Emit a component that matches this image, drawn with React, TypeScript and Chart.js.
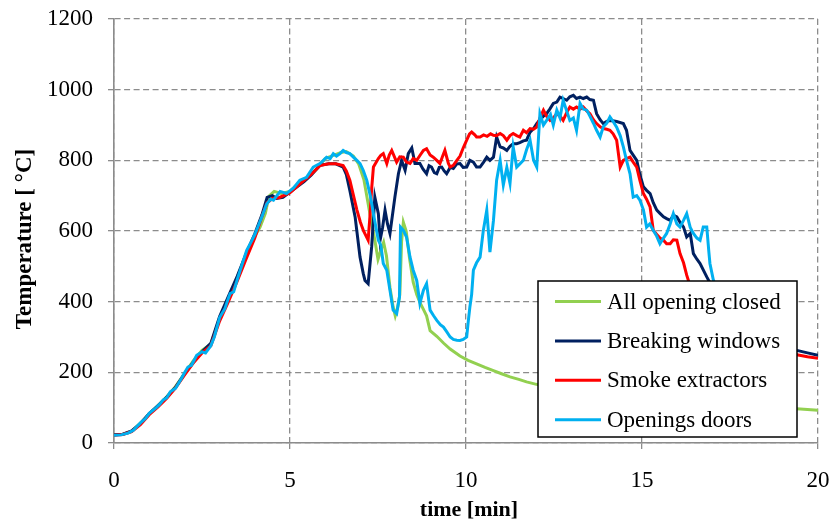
import { useEffect, useRef } from "react";
import { Chart, registerables } from "chart.js";

Chart.register(...registerables);

// Axis ticks
const timeTicks = [0, 5, 10, 15, 20];
const tempTicks = [0, 200, 400, 600, 800, 1000, 1200];

// Series labels and colours
const seriesNames = ["All opening closed", "Breaking windows", "Smoke extractors", "Openings doors"];
const seriesColors = ["#92D050", "#002060", "#FF0000", "#00B0F0"];

// Measurements: [time (min), temperature (°C)]
const allOpeningClosed: [number, number][] = [
  [0, 24], [0.25, 25], [0.5, 33], [0.75, 56], [1.0, 82], [1.25, 106], [1.5, 131], [1.75, 160],
  [2.0, 196], [2.25, 232], [2.5, 262], [2.75, 280], [3.0, 352], [3.25, 410], [3.5, 468], [3.75, 530],
  [4.0, 585], [4.15, 611], [4.3, 650], [4.4, 698], [4.55, 712], [4.75, 706], [5.0, 712], [5.25, 735],
  [5.5, 752], [5.75, 775], [6.0, 805], [6.25, 815], [6.45, 822], [6.6, 825], [6.8, 812], [6.95, 790],
  [7.1, 745], [7.25, 660], [7.4, 580], [7.5, 520], [7.58, 545], [7.66, 568], [7.74, 530], [7.84, 440],
  [7.93, 385], [7.99, 360], [8.06, 385], [8.12, 420], [8.17, 570], [8.22, 625], [8.3, 600], [8.4, 520],
  [8.5, 455], [8.6, 420], [8.69, 398], [8.79, 378], [8.88, 360], [8.98, 318], [9.17, 302], [9.36, 283],
  [9.55, 266], [9.83, 246], [10.06, 234], [10.3, 224], [10.54, 214], [10.78, 205], [11.01, 196],
  [11.25, 187], [11.5, 180], [11.72, 173], [12.0, 166], [12.5, 158], [13, 150], [14, 138], [15, 127],
  [16, 118], [17, 110], [18, 104], [19, 99], [19.5, 96], [20, 93],
];

const breakingWindows: [number, number][] = [
  [0, 23], [0.25, 25], [0.5, 34], [0.75, 55], [1.0, 83], [1.25, 106], [1.5, 130], [1.75, 158],
  [2.0, 195], [2.25, 228], [2.5, 258], [2.75, 282], [3.0, 358], [3.25, 415], [3.5, 472], [3.75, 535],
  [4.0, 592], [4.2, 645], [4.35, 695], [4.5, 700], [4.62, 692], [4.8, 695], [5.0, 710], [5.2, 725],
  [5.4, 740], [5.6, 758], [5.85, 786], [6.1, 790], [6.3, 790], [6.51, 781], [6.6, 760], [6.7, 715],
  [6.85, 640], [6.99, 526], [7.08, 480], [7.13, 460], [7.22, 451], [7.32, 555], [7.41, 696], [7.51, 649],
  [7.56, 574], [7.63, 610], [7.7, 659], [7.77, 620], [7.84, 593], [7.98, 696], [8.08, 762], [8.17, 800],
  [8.27, 772], [8.36, 819], [8.46, 835], [8.55, 791], [8.69, 791], [8.78, 775], [8.88, 762], [8.95, 785],
  [9.02, 781], [9.1, 765], [9.17, 762], [9.24, 780], [9.31, 781], [9.38, 770], [9.45, 762], [9.55, 780],
  [9.64, 777], [9.74, 790], [9.83, 791], [9.92, 780], [10.02, 781], [10.11, 800], [10.21, 795],
  [10.3, 781], [10.4, 781], [10.5, 795], [10.59, 809], [10.68, 800], [10.78, 809], [10.87, 866],
  [10.97, 838], [11.06, 835], [11.16, 828], [11.25, 840], [11.34, 847], [11.44, 847], [11.53, 850],
  [11.63, 855], [11.72, 857], [11.82, 880], [11.92, 890], [12.01, 904], [12.1, 915], [12.2, 925],
  [12.29, 932], [12.38, 945], [12.48, 961], [12.58, 965], [12.67, 979], [12.76, 975], [12.86, 970],
  [12.95, 980], [13.05, 984], [13.14, 975], [13.24, 979], [13.33, 975], [13.43, 979], [13.52, 972],
  [13.62, 970], [13.71, 932], [13.81, 915], [13.9, 904], [14.0, 910], [14.09, 913], [14.28, 910],
  [14.47, 904], [14.56, 885], [14.66, 828], [14.75, 815], [14.85, 800], [14.94, 760], [15.04, 725],
  [15.13, 715], [15.23, 706], [15.32, 680], [15.42, 659], [15.51, 650], [15.61, 640], [15.7, 635],
  [15.8, 630], [15.89, 645], [15.99, 640], [16.08, 625], [16.18, 611], [16.27, 583], [16.37, 593],
  [16.46, 536], [16.56, 520], [16.65, 508], [16.84, 470], [17.0, 440], [17.5, 350], [18.0, 310],
  [18.5, 290], [19.0, 275], [19.4, 262], [19.7, 255], [20.0, 248],
];

const smokeExtractors: [number, number][] = [
  [0, 22], [0.25, 24], [0.5, 32], [0.75, 52], [1.0, 80], [1.25, 102], [1.5, 127], [1.75, 156],
  [2.0, 192], [2.25, 226], [2.5, 255], [2.75, 275], [3.0, 345], [3.25, 400], [3.5, 458], [3.75, 520],
  [4.0, 580], [4.2, 640], [4.35, 680], [4.5, 692], [4.7, 695], [5.0, 708], [5.3, 735], [5.6, 760],
  [5.85, 785], [6.1, 790], [6.3, 790], [6.51, 785], [6.6, 770], [6.7, 744], [6.9, 660], [7.0, 625],
  [7.09, 600], [7.22, 574], [7.27, 640], [7.32, 720], [7.37, 781], [7.51, 805], [7.58, 814], [7.65, 819],
  [7.75, 791], [7.82, 815], [7.89, 828], [8.03, 795], [8.12, 810], [8.22, 809], [8.31, 795], [8.41, 791],
  [8.5, 805], [8.6, 800], [8.7, 815], [8.79, 828], [8.88, 833], [8.98, 815], [9.07, 809], [9.17, 800],
  [9.26, 791], [9.33, 810], [9.4, 828], [9.5, 791], [9.55, 781], [9.64, 786], [9.74, 800], [9.83, 812],
  [9.92, 835], [10.02, 857], [10.1, 875], [10.16, 880], [10.25, 872], [10.3, 866], [10.4, 866],
  [10.5, 872], [10.6, 868], [10.7, 875], [10.78, 871], [10.87, 870], [10.97, 876], [11.06, 870],
  [11.16, 857], [11.25, 870], [11.34, 876], [11.44, 870], [11.53, 866], [11.63, 885], [11.72, 878],
  [11.82, 890], [11.92, 888], [12.01, 894], [12.1, 920], [12.2, 942], [12.29, 925], [12.39, 913],
  [12.48, 920], [12.58, 932], [12.67, 925], [12.76, 913], [12.86, 935], [12.95, 951], [13.05, 945],
  [13.14, 951], [13.24, 945], [13.33, 951], [13.43, 940], [13.52, 932], [13.62, 915], [13.71, 904],
  [13.81, 895], [13.9, 890], [14.0, 888], [14.09, 885], [14.18, 875], [14.28, 857], [14.38, 781],
  [14.47, 800], [14.56, 805], [14.66, 809], [14.75, 795], [14.85, 781], [14.94, 743], [15.04, 706],
  [15.13, 690], [15.23, 668], [15.32, 602], [15.42, 590], [15.51, 580], [15.61, 574], [15.7, 564],
  [15.8, 564], [15.89, 575], [15.99, 574], [16.08, 536], [16.18, 510], [16.27, 475], [16.35, 450],
  [16.5, 420], [17.0, 360], [17.5, 320], [18.0, 295], [18.5, 275], [19.0, 258], [19.4, 250],
  [19.7, 244], [20.0, 240],
];

const openingsDoors: [number, number][] = [
  [0, 22], [0.2, 23], [0.4, 28], [0.55, 36], [0.75, 57], [0.9, 70], [1.0, 84], [1.2, 100], [1.3, 110],
  [1.4, 122], [1.5, 128], [1.6, 145], [1.75, 155], [1.9, 180], [2.0, 198], [2.1, 215], [2.2, 220],
  [2.35, 248], [2.5, 258], [2.6, 255], [2.75, 275], [2.85, 300], [3.0, 355], [3.15, 380], [3.25, 410],
  [3.3, 423], [3.4, 428], [3.5, 462], [3.67, 515], [3.77, 545], [3.9, 570], [4.0, 590], [4.1, 615],
  [4.2, 640], [4.34, 677], [4.45, 690], [4.53, 687], [4.72, 712], [4.9, 706], [5.1, 722], [5.28, 744],
  [5.47, 752], [5.66, 781], [5.85, 791], [5.95, 800], [6.04, 809], [6.14, 805], [6.23, 819], [6.32, 812],
  [6.42, 819], [6.51, 828], [6.6, 822], [6.7, 819], [6.8, 809], [6.9, 800], [6.99, 791], [7.08, 772],
  [7.18, 744], [7.28, 700], [7.37, 649], [7.51, 574], [7.58, 560], [7.65, 508], [7.75, 489], [7.84, 432],
  [7.93, 376], [8.03, 366], [8.11, 413], [8.14, 611], [8.22, 602], [8.31, 583], [8.41, 526], [8.5, 489],
  [8.6, 460], [8.69, 395], [8.79, 432], [8.88, 451], [8.98, 376], [9.08, 360], [9.17, 347], [9.27, 335],
  [9.36, 328], [9.45, 315], [9.55, 300], [9.64, 293], [9.74, 291], [9.83, 290], [9.92, 293], [10.02, 300],
  [10.06, 340], [10.11, 385], [10.16, 420], [10.21, 489], [10.3, 510], [10.4, 526], [10.49, 600],
  [10.59, 659], [10.68, 540], [10.78, 630], [10.87, 744], [10.97, 800], [11.06, 730], [11.16, 780],
  [11.25, 735], [11.34, 838], [11.44, 781], [11.53, 790], [11.63, 800], [11.72, 830], [11.82, 857],
  [11.92, 800], [12.01, 781], [12.1, 932], [12.2, 900], [12.29, 913], [12.4, 930], [12.48, 900],
  [12.58, 942], [12.67, 920], [12.76, 970], [12.86, 940], [12.95, 913], [13.05, 920], [13.14, 885],
  [13.24, 961], [13.33, 945], [13.43, 942], [13.52, 925], [13.62, 905], [13.71, 885], [13.81, 866],
  [13.9, 895], [14.0, 905], [14.09, 923], [14.18, 910], [14.28, 894], [14.38, 870], [14.47, 838],
  [14.56, 800], [14.66, 762], [14.75, 696], [14.85, 700], [14.94, 687], [15.04, 660], [15.13, 611],
  [15.22, 620], [15.32, 602], [15.42, 585], [15.51, 564], [15.61, 580], [15.7, 593], [15.8, 620],
  [15.89, 649], [15.99, 620], [16.08, 611], [16.18, 630], [16.27, 649], [16.37, 610], [16.46, 593],
  [16.56, 580], [16.65, 574], [16.74, 611], [16.84, 611], [16.9, 540], [16.93, 508], [17.03, 460],
  [17.3, 400], [17.8, 340],
];

const seriesData = [allOpeningClosed, breakingWindows, smokeExtractors, openingsDoors];

const FONT_FAMILY = '"Liberation Serif", "Times New Roman", serif';
const GRID_COLOR = "#8c8c8c";
const GRID_DASH = [6, 3.5];

// Boxed legend drawn inside the plot, over the lines, with an opaque background
const boxedLegend = {
  id: "boxedLegend",
  afterDatasetsDraw(chart: Chart) {
    const { ctx, chartArea } = chart;
    const w = 259;
    const h = 156;
    const left = chartArea.right - 21 - w;
    const top = chartArea.bottom - 6 - h;
    ctx.save();
    ctx.fillStyle = "#ffffff";
    ctx.fillRect(left, top, w, h);
    ctx.strokeStyle = "#000000";
    ctx.lineWidth = 1.5;
    ctx.strokeRect(left, top, w, h);
    ctx.font = `23px ${FONT_FAMILY}`;
    ctx.textBaseline = "middle";
    ctx.textAlign = "left";
    seriesNames.forEach((name, i) => {
      const y = top + 20.5 + i * 39.4;
      ctx.strokeStyle = seriesColors[i];
      ctx.lineWidth = 3;
      ctx.beginPath();
      ctx.moveTo(left + 17, y);
      ctx.lineTo(left + 63, y);
      ctx.stroke();
      ctx.fillStyle = "#000000";
      ctx.fillText(name, left + 69, y + 1);
    });
    ctx.restore();
  },
};

// Axis titles
const axisTitles = {
  id: "axisTitles",
  afterDraw(chart: Chart) {
    const { ctx, chartArea } = chart;
    ctx.save();
    ctx.fillStyle = "#000000";
    ctx.font = `bold 22px ${FONT_FAMILY}`;
    ctx.textAlign = "center";
    ctx.textBaseline = "middle";
    ctx.fillText("time [min]", (chartArea.left + chartArea.right) / 2 + 3, chartArea.bottom + 67);
    ctx.font = `bold 23px ${FONT_FAMILY}`;
    ctx.translate(25, (chartArea.top + chartArea.bottom) / 2 + 8);
    ctx.rotate(-Math.PI / 2);
    ctx.fillText("Temperature [ °C]", 0, 0);
    ctx.restore();
  },
};

// Keep the plot area fixed: no extra room reserved for edge tick labels
const noEdgePadding = (scale: any) => {
  scale.paddingTop = 0;
  scale.paddingBottom = 0;
  scale.paddingLeft = 0;
  scale.paddingRight = 0;
};

export default function App() {
  const canvasRef = useRef<HTMLCanvasElement>(null);

  useEffect(() => {
    const canvas = canvasRef.current;
    if (!canvas) return;

    const chart = new Chart(canvas, {
      type: "line",
      data: {
        datasets: seriesData.map((pts, i) => ({
          label: seriesNames[i],
          data: pts.map(([t, v]) => ({ x: t, y: v })),
          borderColor: seriesColors[i],
          backgroundColor: seriesColors[i],
          borderWidth: 3,
          pointRadius: 0,
          tension: 0,
          fill: false,
          order: seriesData.length - i,
        })),
      },
      options: {
        responsive: false,
        animation: false,
        events: [],
        layout: { padding: { top: 19, right: 11, left: 0, bottom: 0 } },
        plugins: {
          legend: { display: false },
          tooltip: { enabled: false },
        },
        scales: {
          x: {
            type: "linear",
            min: timeTicks[0],
            max: timeTicks[timeTicks.length - 1],
            afterBuildTicks: (scale: any) => {
              scale.ticks = timeTicks.map((v) => ({ value: v }));
            },
            afterFit: (scale: any) => {
              scale.height = 79;
              noEdgePadding(scale);
            },
            ticks: {
              color: "#000000",
              padding: 18,
              maxRotation: 0,
              font: { family: FONT_FAMILY, size: 23 },
              callback: (v: any) => String(v),
            },
            grid: {
              color: GRID_COLOR,
              lineWidth: 1.3,
              tickLength: 6,
              tickColor: GRID_COLOR,
              tickBorderDash: GRID_DASH,
            },
            border: { color: GRID_COLOR, width: 1.6, dash: GRID_DASH },
          },
          y: {
            type: "linear",
            min: tempTicks[0],
            max: tempTicks[tempTicks.length - 1],
            afterBuildTicks: (scale: any) => {
              scale.ticks = tempTicks.map((v) => ({ value: v }));
            },
            afterFit: (scale: any) => {
              scale.width = 114;
              noEdgePadding(scale);
            },
            ticks: {
              color: "#000000",
              padding: 15,
              font: { family: FONT_FAMILY, size: 23 },
              callback: (v: any) => String(v),
            },
            grid: {
              color: GRID_COLOR,
              lineWidth: 1.3,
              tickLength: 6,
              tickColor: GRID_COLOR,
              tickBorderDash: GRID_DASH,
            },
            border: { color: GRID_COLOR, width: 1.6, dash: GRID_DASH },
          },
        },
      },
      plugins: [boxedLegend, axisTitles],
    });

    return () => chart.destroy();
  }, []);

  return (
    <div style={{ position: "absolute", left: 0, top: 0, width: 829, height: 522, background: "#ffffff" }}>
      <canvas ref={canvasRef} width={829} height={522} style={{ display: "block" }} />
    </div>
  );
}
